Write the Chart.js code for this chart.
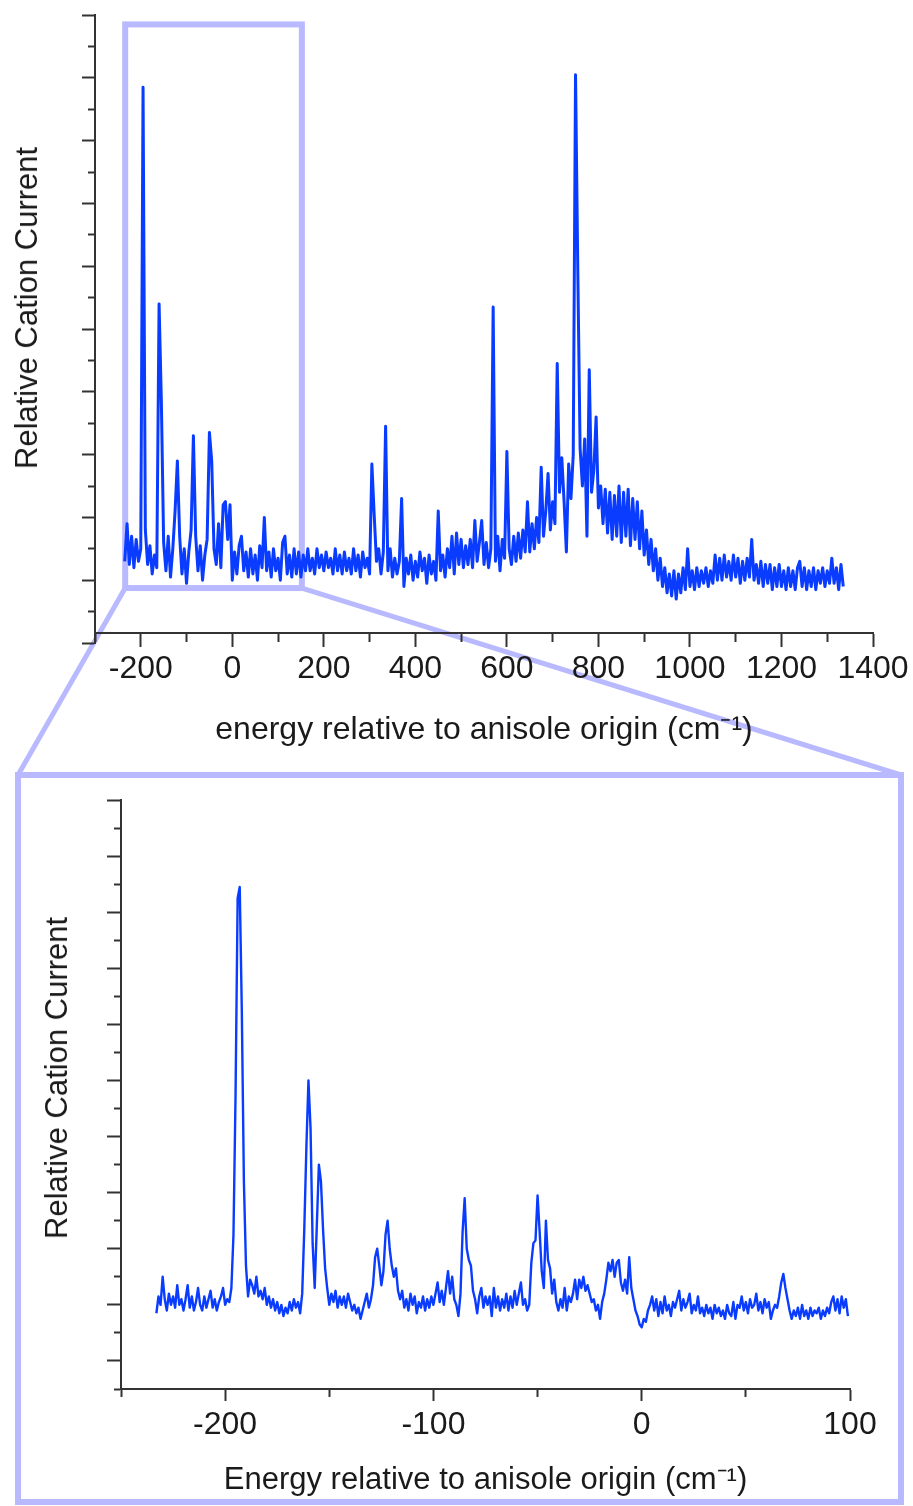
<!DOCTYPE html>
<html lang="en">
<head>
<meta charset="UTF-8">
<title>Anisole cation spectrum</title>
<script src="https://cdn.jsdelivr.net/npm/chart.js"></script>
<style>
    body, html {
        margin: 0;
        padding: 0;
        background: #fff;
    }
    .page {
        position: relative;
        width: 913px;
        height: 1506px;
        overflow: hidden;
    }
    #deco {
        position: absolute;
        left: 0;
        top: 0;
        z-index: 0;
    }
    .panel {
        position: absolute;
        left: 0;
        z-index: 1;
    }
    .ytitle {
        position: absolute;
        z-index: 2;
        transform: translate(-50%, -50%) rotate(-90deg);
        white-space: nowrap;
        font: 31px 'Liberation Sans', Arial, sans-serif;
        color: #1a1a1a;
    }
</style>
</head>
<body>
<div class="page">
    <canvas id="deco" width="913" height="1506"></canvas>
    <div class="panel" style="top:0"><canvas id="fullChart" width="913" height="770"></canvas></div>
    <div class="panel" style="top:775px"><canvas id="zoomChart" width="913" height="731"></canvas></div>
    <div class="ytitle" style="left:27px; top:308px">Relative Cation Current</div>
    <div class="ytitle" style="left:57px; top:1078px">Relative Cation Current</div>
</div>

<script>
// ---- full scan (top panel), cm-1 and relative current ----
const fullEnergy = [
    -235, -230, -225, -220, -215, -210, -205, -200, -195, -190,
    -185, -180, -175, -170, -165, -160, -155, -150, -145, -140,
    -135, -130, -125, -120, -115, -110, -105, -100, -95, -90,
    -85, -80, -75, -70, -65, -60, -55, -50, -45, -40,
    -35, -30, -25, -20, -15, -10, -5, 0, 5, 10,
    15, 20, 25, 30, 35, 40, 45, 50, 55, 60,
    65, 70, 75, 80, 85, 90, 95, 100, 105, 110,
    115, 120, 125, 130, 135, 140, 145, 150, 155, 160,
    165, 170, 175, 180, 185, 190, 195, 200, 205, 210,
    215, 220, 225, 230, 235, 240, 245, 250, 255, 260,
    265, 270, 275, 280, 285, 290, 295, 300, 305, 310,
    315, 320, 325, 330, 335, 340, 345, 350, 355, 360,
    365, 370, 375, 380, 385, 390, 395, 400, 405, 410,
    415, 420, 425, 430, 435, 440, 445, 450, 455, 460,
    465, 470, 475, 480, 485, 490, 495, 500, 505, 510,
    515, 520, 525, 530, 535, 540, 545, 550, 555, 560,
    565, 570, 575, 580, 585, 590, 595, 600, 605, 610,
    615, 620, 625, 630, 635, 640, 645, 650, 655, 660,
    665, 670, 675, 680, 685, 690, 695, 700, 705, 710,
    715, 720, 725, 730, 735, 740, 745, 750, 755, 760,
    765, 770, 775, 780, 785, 790, 795, 800, 805, 810,
    815, 820, 825, 830, 835, 840, 845, 850, 855, 860,
    865, 870, 875, 880, 885, 890, 895, 900, 905, 910,
    915, 920, 925, 930, 935, 940, 945, 950, 955, 960,
    965, 970, 975, 980, 985, 990, 995, 1000, 1005, 1010,
    1015, 1020, 1025, 1030, 1035, 1040, 1045, 1050, 1055, 1060,
    1065, 1070, 1075, 1080, 1085, 1090, 1095, 1100, 1105, 1110,
    1115, 1120, 1125, 1130, 1135, 1140, 1145, 1150, 1155, 1160,
    1165, 1170, 1175, 1180, 1185, 1190, 1195, 1200, 1205, 1210,
    1215, 1220, 1225, 1230, 1235, 1240, 1245, 1250, 1255, 1260,
    1265, 1270, 1275, 1280, 1285, 1290, 1295, 1300, 1305, 1310,
    1315, 1320, 1325, 1330, 1335
];
const fullSignal = [
    2.6, 3.8, 2.5, 3.4, 2.4, 3.3, 2.6, 3.0, 17.7, 3.6,
    2.5, 3.1, 2.2, 2.8, 2.4, 10.8, 7.7, 3.2, 2.3, 3.4,
    2.1, 3.0, 4.2, 5.8, 3.4, 2.2, 3.0, 1.9, 2.9, 3.6,
    6.6, 3.4, 2.3, 3.1, 2.0, 2.8, 3.3, 6.7, 5.8, 3.0,
    2.5, 3.8, 2.4, 4.4, 4.5, 3.3, 4.4, 2.0, 2.9, 2.2,
    3.1, 3.4, 2.3, 2.9, 2.1, 3.0, 2.2, 2.8, 2.0, 3.1,
    2.4, 4.0, 2.3, 2.9, 2.1, 3.0, 2.3, 2.7, 2.0, 3.2,
    3.4, 2.2, 2.8, 2.1, 3.0, 2.2, 2.9, 2.1, 2.8, 2.3,
    3.0, 2.3, 2.7, 2.2, 3.0, 2.4, 2.8, 2.3, 2.9, 2.4,
    2.7, 2.2, 3.0, 2.3, 2.8, 2.2, 2.9, 2.3, 2.7, 2.2,
    3.0, 2.3, 2.8, 2.1, 2.9, 2.4, 2.7, 2.2, 5.7, 4.1,
    2.6, 3.0, 2.2, 2.9, 6.9, 2.3, 3.0, 2.1, 2.7, 2.2,
    2.6, 4.6, 1.8, 2.7, 2.2, 2.8, 2.0, 2.6, 2.1, 2.9,
    2.3, 2.7, 1.9, 2.8, 2.2, 2.6, 2.0, 4.2, 2.3, 2.8,
    2.1, 3.0, 2.4, 3.4, 2.2, 3.5, 2.5, 3.3, 2.4, 3.1,
    2.5, 3.3, 2.4, 3.9, 2.6, 3.2, 3.9, 2.5, 3.2, 2.4,
    3.0, 10.7, 2.6, 3.4, 2.3, 3.3, 2.7, 6.1, 3.0, 2.5,
    3.4, 2.6, 3.5, 2.7, 3.6, 2.9, 4.5, 2.9, 3.8, 3.0,
    4.0, 3.2, 5.6, 3.4, 4.2, 5.4, 3.6, 4.5, 3.8, 8.9,
    4.8, 5.9, 4.5, 2.9, 5.7, 4.6, 6.0, 18.1, 11.8, 6.2,
    5.0, 6.5, 3.4, 8.7, 4.8, 5.5, 7.2, 4.3, 5.0, 3.8,
    4.9, 3.5, 4.8, 3.3, 4.7, 3.4, 5.0, 3.2, 4.8, 3.4,
    4.9, 3.1, 4.6, 3.3, 4.5, 3.0, 4.2, 2.8, 3.6, 2.5,
    3.3, 2.3, 3.0, 2.0, 2.7, 1.8, 2.4, 1.6, 2.2, 1.5,
    2.3, 1.4, 2.2, 1.6, 2.4, 1.7, 3.0, 1.8, 2.3, 1.7,
    2.4, 1.8, 2.3, 1.9, 2.4, 1.8, 2.3, 1.9, 2.8, 2.0,
    2.7, 2.0, 2.8, 2.1, 2.6, 2.0, 2.8, 2.1, 2.7, 1.9,
    2.6, 2.0, 2.7, 2.1, 3.3, 2.0, 2.5, 1.9, 2.6, 1.8,
    2.5, 1.9, 2.5, 1.7, 2.4, 1.8, 2.5, 1.8, 2.3, 1.7,
    2.4, 1.8, 2.3, 1.7, 2.4, 2.6, 1.8, 2.4, 1.7, 2.3,
    1.8, 2.4, 1.7, 2.3, 1.9, 2.4, 1.8, 2.3, 1.9, 2.7,
    1.9, 2.4, 1.7, 2.5, 1.8
];

// ---- expanded low-energy region (bottom panel) ----
const zoomEnergy = [
    -233, -232, -231, -230, -229, -228, -227, -226, -225, -224,
    -223, -222, -221, -220, -219, -218, -217, -216, -215, -214,
    -213, -212, -211, -210, -209, -208, -207, -206, -205, -204,
    -203, -202, -201, -200, -199, -198, -197, -196, -195, -194,
    -193, -192, -191, -190, -189, -188, -187, -186, -185, -184,
    -183, -182, -181, -180, -179, -178, -177, -176, -175, -174,
    -173, -172, -171, -170, -169, -168, -167, -166, -165, -164,
    -163, -162, -161, -160, -159, -158, -157, -156, -155, -154,
    -153, -152, -151, -150, -149, -148, -147, -146, -145, -144,
    -143, -142, -141, -140, -139, -138, -137, -136, -135, -134,
    -133, -132, -131, -130, -129, -128, -127, -126, -125, -124,
    -123, -122, -121, -120, -119, -118, -117, -116, -115, -114,
    -113, -112, -111, -110, -109, -108, -107, -106, -105, -104,
    -103, -102, -101, -100, -99, -98, -97, -96, -95, -94,
    -93, -92, -91, -90, -89, -88, -87, -86, -85, -84,
    -83, -82, -81, -80, -79, -78, -77, -76, -75, -74,
    -73, -72, -71, -70, -69, -68, -67, -66, -65, -64,
    -63, -62, -61, -60, -59, -58, -57, -56, -55, -54,
    -53, -52, -51, -50, -49, -48, -47, -46, -45, -44,
    -43, -42, -41, -40, -39, -38, -37, -36, -35, -34,
    -33, -32, -31, -30, -29, -28, -27, -26, -25, -24,
    -23, -22, -21, -20, -19, -18, -17, -16, -15, -14,
    -13, -12, -11, -10, -9, -8, -7, -6, -5, -4,
    -3, -2, -1, 0, 1, 2, 3, 4, 5, 6,
    7, 8, 9, 10, 11, 12, 13, 14, 15, 16,
    17, 18, 19, 20, 21, 22, 23, 24, 25, 26,
    27, 28, 29, 30, 31, 32, 33, 34, 35, 36,
    37, 38, 39, 40, 41, 42, 43, 44, 45, 46,
    47, 48, 49, 50, 51, 52, 53, 54, 55, 56,
    57, 58, 59, 60, 61, 62, 63, 64, 65, 66,
    67, 68, 69, 70, 71, 72, 73, 74, 75, 76,
    77, 78, 79, 80, 81, 82, 83, 84, 85, 86,
    87, 88, 89, 90, 91, 92, 93, 94, 95, 96,
    97, 98, 99
];
const zoomSignal = [
    1.7, 2.3, 2.0, 3.0, 2.2, 1.8, 2.4, 2.0, 2.3, 1.9,
    2.7, 2.0, 2.2, 1.8, 2.2, 2.7, 1.9, 2.3, 1.8, 2.1,
    2.6, 2.0, 1.8, 2.3, 1.9, 2.2, 2.5, 1.9, 2.2, 1.8,
    2.1, 2.3, 2.6, 2.0, 2.2, 2.1, 2.6, 4.5, 9.5, 16.5,
    16.9, 12.5, 6.4, 3.4, 2.3, 2.9, 2.7, 2.4, 3.0, 2.3,
    2.5, 2.2, 2.6, 2.0, 2.3, 1.9, 2.2, 1.8, 2.1, 1.7,
    2.0, 1.6, 1.9, 1.7, 2.1, 1.8, 2.2, 1.9, 2.1, 1.7,
    2.4, 4.7, 7.6, 10.0, 8.3, 4.2, 2.6, 4.8, 7.0, 6.4,
    4.7, 3.3, 2.6, 2.0, 2.4, 2.1, 2.5, 1.9, 2.3, 2.0,
    2.3, 1.9, 2.4, 2.1, 1.8, 2.0, 1.7, 1.9, 1.5, 1.8,
    2.1, 2.4, 1.9, 2.2, 2.7, 3.7, 4.0, 3.4, 2.7, 3.2,
    4.5, 5.0, 4.0, 3.4, 3.0, 3.3, 2.5, 2.2, 2.5, 1.9,
    2.2, 1.8, 2.4, 2.0, 2.3, 1.7, 2.1, 1.9, 2.3, 1.8,
    2.2, 1.9, 2.3, 2.0, 2.4, 2.8, 2.1, 2.5, 2.0, 2.6,
    3.2, 2.4, 3.0, 2.2, 2.0, 1.6, 2.4, 4.6, 5.8, 4.0,
    3.6, 3.4, 2.5, 2.2, 1.7, 2.3, 2.6, 1.9, 2.3, 2.0,
    2.3, 1.6, 2.6, 1.9, 2.3, 1.8, 2.2, 1.9, 2.4, 1.8,
    2.3, 1.9, 2.5, 2.0, 2.4, 2.8, 2.0, 2.2, 1.8, 2.0,
    3.5, 4.2, 4.3, 5.9, 4.6, 3.2, 2.6, 5.0, 3.6, 3.3,
    2.4, 2.9, 2.1, 1.8, 2.2, 1.9, 2.6, 1.8, 2.3, 2.1,
    2.4, 2.9, 2.2, 2.9, 2.6, 3.0, 2.5, 2.7, 2.4, 2.1,
    2.2, 1.8, 2.0, 1.5, 2.1, 2.4, 2.9, 3.5, 3.2, 3.6,
    3.0, 3.5, 3.6, 2.8, 2.5, 2.9, 2.4, 3.7, 2.6, 2.2,
    1.8, 1.6, 1.3, 1.2, 1.5, 1.4, 1.8, 2.0, 2.3, 1.8,
    2.2, 1.6, 2.1, 1.7, 2.3, 1.8, 2.0, 1.6, 2.1, 1.9,
    2.2, 2.5, 1.8, 2.2, 1.9, 2.1, 2.4, 1.7, 2.0, 1.8,
    2.3, 1.7, 1.9, 1.6, 2.0, 1.7, 1.9, 1.5, 2.0, 1.7,
    1.9, 1.6, 1.8, 1.5, 2.0, 1.7, 1.6, 2.1, 1.5, 2.0,
    1.9, 2.3, 1.8, 2.1, 1.7, 2.2, 1.9, 2.0, 2.4, 1.8,
    2.1, 1.7, 2.2, 1.9, 2.1, 1.5, 1.8, 2.0, 1.9, 2.3,
    2.8, 3.1, 2.6, 2.2, 1.8, 1.5, 1.8, 1.6, 1.9, 1.5,
    2.0, 1.6, 1.8, 1.5, 1.9, 1.6, 1.8, 1.7, 1.9, 1.5,
    1.8, 1.6, 1.9, 1.7, 2.1, 2.3, 1.8, 2.2, 1.7, 2.3,
    1.9, 2.2, 1.6
];

// region of the full scan that is blown up below (data units)
const zoomWindow = { from: -234, to: 152, low: 1.75, high: 19.7 };
// frame round the lower panel (page pixels)
const lowerFrame = { left: 18, top: 775, right: 901, bottom: 1502 };

const LINE_BLUE = '#0a3cff';
const FRAME = '#b9b9ff';
const AXIS = '#333';
const FONT = "'Liberation Sans', Arial, sans-serif";

function toPoints(xs, ys) {
    return xs.map((x, i) => ({ x: x, y: ys[i] }));
}

// long ticks on even values, short ones in between
// (the tick is stroked from its outer end inwards, so the dash skips the outer part)
function yAxis(min, max, width, longTick, shortTick) {
    const isMinor = (c) => c.tick && Math.abs(c.tick.value % 2) === 1;
    return {
        min: min, max: max,
        afterFit: (s) => { s.width = width; },
        border: { display: true, color: AXIS, width: 2 },
        grid: {
            drawOnChartArea: false,
            tickLength: longTick,
            tickWidth: 2,
            tickColor: AXIS,
            tickBorderDash: (c) => isMinor(c) ? [shortTick, longTick - shortTick] : [],
            tickBorderDashOffset: (c) => isMinor(c) ? shortTick : 0
        },
        ticks: { stepSize: 1, display: false }
    };
}

function xAxis(min, max, step, labelEvery, longTick, shortTick, title, titleSize) {
    return {
        type: 'linear',
        min: min, max: max,
        border: { display: true, color: AXIS, width: 2 },
        grid: {
            drawOnChartArea: false,
            tickLength: longTick,
            tickWidth: 2,
            tickColor: AXIS,
            tickBorderDash: (c) => (c.tick && c.tick.value % labelEvery !== 0) ? [shortTick, 100] : []
        },
        ticks: {
            stepSize: step,
            autoSkip: false,
            maxRotation: 0,
            color: '#1a1a1a',
            font: { family: FONT, size: 32 },
            callback: (v) => v % labelEvery === 0 ? String(v) : ''
        },
        title: {
            display: true,
            text: title,
            color: '#1a1a1a',
            font: { family: FONT, size: titleSize }
        }
    };
}

const zoomBoxPlugin = {
    id: 'zoomBox',
    beforeDatasetsDraw(chart) {
        const { ctx, scales: { x, y } } = chart;
        const l = x.getPixelForValue(zoomWindow.from), r = x.getPixelForValue(zoomWindow.to);
        const t = y.getPixelForValue(zoomWindow.high), b = y.getPixelForValue(zoomWindow.low);
        ctx.save();
        ctx.strokeStyle = FRAME;
        ctx.lineWidth = 6;
        ctx.strokeRect(l, t, r - l, b - t);
        ctx.restore();
    }
};

const common = {
    responsive: false,
    animation: false,
    devicePixelRatio: 1,
    plugins: { legend: { display: false }, tooltip: { enabled: false } },
    elements: { point: { radius: 0 }, line: { tension: 0, borderJoinStyle: 'round' } }
};

// top: whole scan, x axis crosses a little above the bottom of the y axis
const topX = xAxis(-300, 1400, 100, 200, 13, 8, 'energy relative to anisole origin (cm\u207B\u00B9)', 32);
topX.position = { y: 0.32 };
topX.ticks.padding = 4;
topX.afterFit = (s) => { s.height = 120; };

const fullChart = new Chart(document.getElementById('fullChart'), {
    type: 'line',
    data: {
        datasets: [{
            data: toPoints(fullEnergy, fullSignal),
            borderColor: LINE_BLUE,
            borderWidth: 3,
            fill: false
        }]
    },
    options: Object.assign({}, common, {
        layout: { padding: { top: 15, right: 40, left: 0, bottom: 127 } },
        scales: { x: topX, y: yAxis(0, 20, 95, 13, 7) }
    }),
    plugins: [zoomBoxPlugin]
});

// bottom: expanded view
const lowX = xAxis(-250, 100, 50, 100, 12, 7, 'Energy relative to anisole origin (cm\u207B\u00B9)', 31);
lowX.ticks.padding = 5;
lowX.title.padding = { top: 4, bottom: 7 };
lowX.afterFit = (s) => { s.height = 117; };

new Chart(document.getElementById('zoomChart'), {
    type: 'line',
    data: {
        datasets: [{
            data: toPoints(zoomEnergy, zoomSignal),
            borderColor: LINE_BLUE,
            borderWidth: 2.4,
            fill: false
        }]
    },
    options: Object.assign({}, common, {
        layout: { padding: { top: 25, right: 63, left: 0, bottom: 0 } },
        scales: { x: lowX, y: yAxis(-1, 20, 121, 14, 7) }
    })
});

// lavender frame round the lower panel and the two lines joining it to the window above
(function drawDeco() {
    const ctx = document.getElementById('deco').getContext('2d');
    const sx = fullChart.scales.x, sy = fullChart.scales.y;
    const l = sx.getPixelForValue(zoomWindow.from), r = sx.getPixelForValue(zoomWindow.to);
    const b = sy.getPixelForValue(zoomWindow.low);
    ctx.strokeStyle = FRAME;
    ctx.lineWidth = 5;
    ctx.beginPath();
    ctx.moveTo(l, b); ctx.lineTo(lowerFrame.left, lowerFrame.top);
    ctx.moveTo(r, b); ctx.lineTo(lowerFrame.right, lowerFrame.top);
    ctx.stroke();
    ctx.lineWidth = 6;
    ctx.strokeRect(lowerFrame.left, lowerFrame.top, lowerFrame.right - lowerFrame.left, lowerFrame.bottom - lowerFrame.top);
})();
</script>
</body>
</html>
